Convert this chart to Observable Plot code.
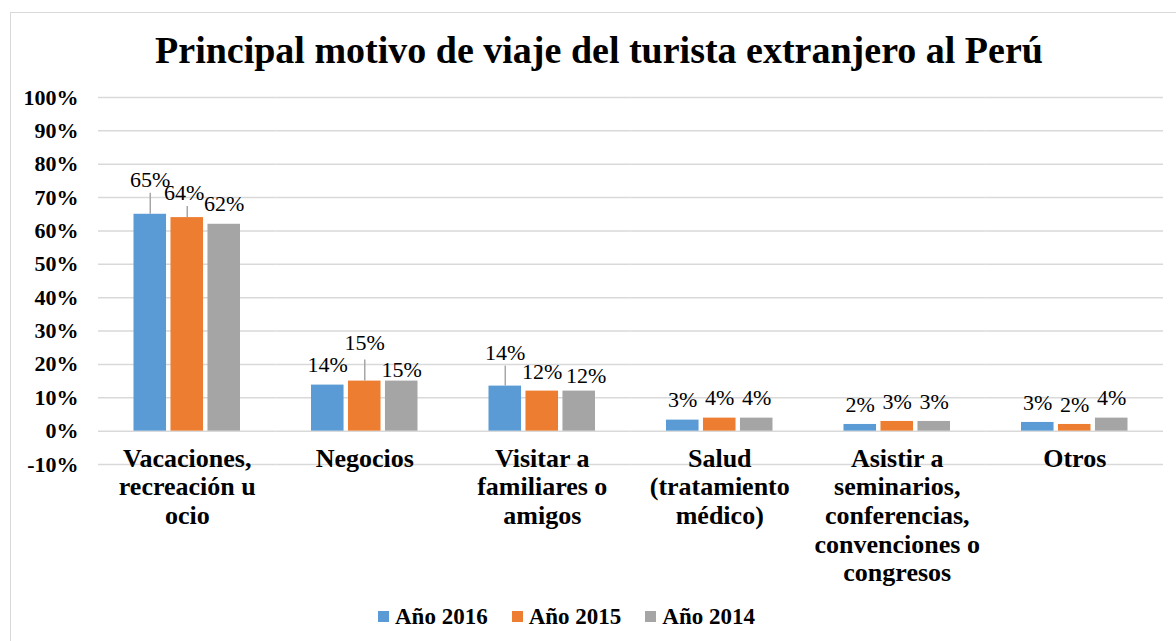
<!DOCTYPE html>
<html>
<head>
<meta charset="utf-8">
<script src="https://cdn.jsdelivr.net/npm/d3@7"></script>
<script src="https://cdn.jsdelivr.net/npm/@observablehq/plot@0.6"></script>
<style>
  html, body { margin: 0; padding: 0; background: #fff; }
  body { width: 1176px; height: 641px; overflow: hidden; position: relative; }
  #frame { position: absolute; left: 10px; top: 12px; width: 1400px; height: 900px; border: 1.5px solid #d9d9d9; box-sizing: border-box; }
  #title { position: absolute; left: 0; width: 1198px; top: 31px; text-align: center; font-family: "Liberation Serif", "Times New Roman", serif; font-weight: bold; font-size: 38px; line-height: 1; color: #000; white-space: nowrap; }
  #chart { position: absolute; left: 0; top: 0; }
  #chart svg text, #chart svg tspan { font-family: "Liberation Serif", "Times New Roman", serif !important; }
  #legend { position: absolute; left: 378px; top: 600px; }
  #legend .lg-swatches { font-family: "Liberation Serif", "Times New Roman", serif !important; font-size: 23px !important; font-weight: bold !important; color: #000 !important; margin: 0 !important; }
  #legend .lg-swatch { margin-right: 24px !important; }
  #legend .lg-swatch > svg { margin-right: 6px !important; }
</style>
</head>
<body>
<div id="frame"></div>
<div id="title">Principal motivo de viaje del turista extranjero al Perú</div>
<div id="chart"></div>
<div id="legend"></div>
<script>
// ---- data ----
const categories = [
  "Vacaciones,\nrecreación u\nocio",
  "Negocios",
  "Visitar a\nfamiliares o\namigos",
  "Salud\n(tratamiento\nmédico)",
  "Asistir a\nseminarios,\nconferencias,\nconvenciones o\ncongresos",
  "Otros"
];
const series = ["Año 2016", "Año 2015", "Año 2014"];
const values2016 = [0.65, 0.138, 0.135, 0.033, 0.020, 0.026];
const values2015 = [0.64, 0.150, 0.120, 0.039, 0.029, 0.020];
const values2014 = [0.62, 0.150, 0.120, 0.039, 0.029, 0.039];
const yTicks = [-0.1, 0, 0.1, 0.2, 0.3, 0.4, 0.5, 0.6, 0.7, 0.8, 0.9, 1.0];
const colors = ["#5B9BD5", "#ED7D31", "#A5A5A5"];

// ---- label layout (pixels, style only) ----
const lift = [
  [34, 20, 33, 20, 20, 20],
  [25, 38, 19, 20, 20, 20],
  [20, 11, 15, 20, 20, 20]
];
const shiftX = [
  [0, 0, 0, 0, 0, 0],
  [-3, 0, 0, 0, 0, 0],
  [0, 0, 7, 0, 0, 0]
];
const leader = [
  [21, 0, 20, 0, 0, 0],
  [11, 21, 0, 0, 0, 0],
  [0, 0, 0, 0, 0, 0]
];

const allValues = [values2016, values2015, values2014];
const rows = categories.flatMap((c, i) => series.map((s, j) => ({
  category: c, series: s, value: allValues[j][i],
  lift: lift[j][i], dx: shiftX[j][i], leader: leader[j][i]
})));

const serif = "Liberation Serif";
const pct = d => `${Math.round(d * 100)}%`;

const labelMarks = d3.groups(rows, d => `${d.dx}|${d.lift}`).map(([k, rs]) =>
  Plot.text(rs, {
    fx: "category", x: "series", y: "value", text: d => pct(d.value),
    dx: rs[0].dx, dy: -rs[0].lift,
    fontFamily: serif, fontSize: 22, fill: "#000"
  })
);
const leaderMarks = d3.groups(rows.filter(d => d.leader > 0), d => d.leader).map(([L, rs]) =>
  Plot.ruleX(rs, {
    fx: "category", x: "series", y1: "value", y2: "value",
    insetTop: -L, stroke: "#a6a6a6", strokeWidth: 1.5
  })
);

const plot = Plot.plot({
  width: 1176,
  height: 600,
  marginLeft: 98,
  marginRight: 13,
  marginTop: 97,
  marginBottom: 136,
  style: { background: "transparent", overflow: "visible" },
  fx: { domain: categories, padding: 0, round: false, axis: null },
  x: { domain: series, paddingInner: 0.12, paddingOuter: 0.96, round: false, axis: null },
  y: { domain: [-0.1, 1.0], axis: null },
  color: { domain: series, range: colors },
  marks: [
    Plot.gridY(yTicks, { stroke: "#d9d9d9", strokeOpacity: 1, strokeWidth: 1.5 }),
    Plot.axisY({
      ticks: yTicks, tickFormat: pct, tickSize: 0, tickPadding: 20, label: null,
      fontFamily: serif, fontSize: 22, fontWeight: "bold", fill: "#000"
    }),
    Plot.barY(rows, { fx: "category", x: "series", y: "value", fill: "series" }),
    ...leaderMarks,
    ...labelMarks,
    Plot.text(categories, {
      fx: Plot.identity, text: Plot.identity, frameAnchor: "bottom",
      lineAnchor: "top", dy: -18, lineHeight: 1.1,
      fontFamily: serif, fontSize: 26, fontWeight: "bold", fill: "#000"
    })
  ]
});
document.getElementById("chart").appendChild(plot);

const legend = plot.legend("color", {
  legend: "swatches", swatchSize: 11, className: "lg",
  style: { fontFamily: serif, fontSize: "23px", fontWeight: "bold", color: "#000" }
});
document.getElementById("legend").appendChild(legend);
</script>
</body>
</html>
